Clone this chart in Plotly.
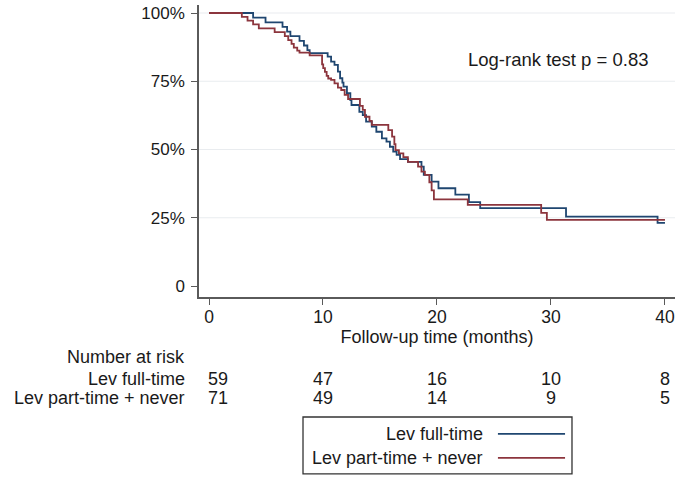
import plotly.graph_objects as go

# ---- data ----
group_names = ["Lev full-time", "Lev part-time + never"]

months_full = [0, 3.87, 4.96, 6.45, 6.85, 7.14, 7.94, 8.33, 8.63, 8.83, 10.41, 10.71, 11.01,
               11.31, 11.50, 11.70, 11.80, 12.10, 12.40, 12.50, 13.19, 13.49, 13.78, 14.28,
               14.68, 15.17, 15.57, 15.87, 16.16, 16.46, 16.76, 17.45, 18.64, 18.84, 19.53,
               20.13, 21.61, 22.80, 23.79, 31.32, 39.35, 40.0]
surv_full = [1.0, 0.983, 0.966, 0.949, 0.932, 0.915, 0.898, 0.881, 0.864, 0.853, 0.840, 0.822,
             0.810, 0.785, 0.761, 0.745, 0.730, 0.706, 0.681, 0.663, 0.638, 0.626, 0.602, 0.584,
             0.565, 0.541, 0.529, 0.510, 0.492, 0.480, 0.465, 0.455, 0.437, 0.407, 0.382,
             0.358, 0.335, 0.307, 0.285, 0.254, 0.231, 0.231]

months_part = [0, 2.88, 3.38, 3.87, 4.37, 5.76, 6.65, 6.95, 7.24, 7.44, 7.74, 7.94, 8.83, 9.92,
               10.02, 10.17, 10.32, 10.46, 10.71, 11.01, 11.31, 11.60, 11.90, 12.20, 13.24,
               13.49, 13.68, 14.08, 14.28, 15.73, 16.06, 16.26, 16.36, 16.66, 17.05, 17.45,
               18.34, 18.64, 18.94, 19.33, 19.53, 19.73, 22.70, 29.14, 29.64, 40.0]
surv_part = [1.0, 0.986, 0.972, 0.958, 0.944, 0.930, 0.915, 0.901, 0.887, 0.873, 0.862, 0.855,
             0.845, 0.812, 0.798, 0.784, 0.770, 0.760, 0.755, 0.742, 0.727, 0.718, 0.700,
             0.685, 0.660, 0.645, 0.620, 0.605, 0.590, 0.571, 0.547, 0.520, 0.498, 0.486,
             0.472, 0.455, 0.437, 0.419, 0.407, 0.380, 0.350, 0.317, 0.297, 0.268, 0.242, 0.242]

risk_times = [0, 10, 20, 30, 40]
risk_full = [59, 47, 16, 10, 8]
risk_part = [71, 49, 14, 9, 5]

x_ticks = [0, 10, 20, 30, 40]
y_ticks = [0, 0.25, 0.5, 0.75, 1.0]
y_labels = ["0", "25%", "50%", "75%", "100%"]

colors = ["#1f4670", "#8c353d"]
FONT = "Liberation Sans, Arial, sans-serif"
TXT = "#1a1a1a"
AX = "#5a5a5a"

fig = go.Figure()
fig.add_trace(go.Scatter(x=months_full, y=surv_full, mode="lines", line_shape="hv",
                         line=dict(color=colors[0], width=1.8), name=group_names[0]))
fig.add_trace(go.Scatter(x=months_part, y=surv_part, mode="lines", line_shape="hv",
                         line=dict(color=colors[1], width=1.8), name=group_names[1]))

shapes = []
for v in y_ticks[1:]:
    shapes.append(dict(type="line", xref="paper", x0=0, x1=1, yref="y", y0=v, y1=v,
                       line=dict(color="#e9ecef", width=1.2), layer="below"))

# legend box (manual, text on the left of the sample line)
shapes.append(dict(type="rect", xref="paper", yref="paper", x0=0.2185, x1=0.7836,
                   y0=-0.606, y1=-0.411, line=dict(color="#333333", width=1.3),
                   fillcolor="white"))
leg_y = [-0.469, -0.551]
for i in range(2):
    shapes.append(dict(type="line", xref="paper", yref="paper", x0=0.628, x1=0.769,
                       y0=leg_y[i], y1=leg_y[i], line=dict(color=colors[i], width=1.8)))

annotations = []
for i in range(2):
    annotations.append(dict(xref="paper", yref="paper", x=0.601, y=leg_y[i], text=group_names[i],
                            showarrow=False, xanchor="right", yanchor="middle",
                            font=dict(family=FONT, size=18, color=TXT)))

# log-rank text
annotations.append(dict(xref="paper", yref="paper", x=0.756, y=0.812,
                        text="Log-rank test p = 0.83", showarrow=False,
                        xanchor="center", yanchor="middle",
                        font=dict(family=FONT, size=18.5, color=TXT)))

# number at risk table
row_y = [-0.2055, -0.2808, -0.3459]
annotations.append(dict(xref="paper", yref="paper", x=-0.0252, y=row_y[0], text="Number at risk",
                        showarrow=False, xanchor="right", yanchor="middle",
                        font=dict(family=FONT, size=18, color=TXT)))
for i, (name, vals) in enumerate(zip(group_names, [risk_full, risk_part])):
    annotations.append(dict(xref="paper", yref="paper", x=-0.0252, y=row_y[i + 1], text=name,
                            showarrow=False, xanchor="right", yanchor="middle",
                            font=dict(family=FONT, size=18, color=TXT)))
    for j, (t, n) in enumerate(zip(risk_times, vals)):
        annotations.append(dict(xref="x", yref="paper", x=t, y=row_y[i + 1], text=str(n),
                                showarrow=False, xanchor="center", yanchor="middle",
                                xshift=9 if j == 0 else 0,
                                font=dict(family=FONT, size=18, color=TXT)))

fig.update_layout(
    width=689, height=483,
    margin=dict(l=199, r=14, t=5, b=186),
    paper_bgcolor="white", plot_bgcolor="white",
    showlegend=False,
    shapes=shapes, annotations=annotations,
    font=dict(family=FONT, size=18, color=TXT),
    xaxis=dict(range=[-0.877, 40.88], tickvals=x_ticks, ticks="outside", ticklen=6,
               tickwidth=1.3, tickcolor=AX, showline=True, linecolor=AX, linewidth=1.5,
               showgrid=False, zeroline=False, ticklabelstandoff=-3,
               tickfont=dict(family=FONT, size=17.5, color=TXT),
               title=dict(text="Follow-up time (months)", standoff=0,
                          font=dict(family=FONT, size=18, color=TXT))),
    yaxis=dict(range=[-0.0403, 1.0293], tickvals=y_ticks, ticktext=y_labels, ticks="outside",
               ticklen=6, tickwidth=1.3, tickcolor=AX, showline=True, linecolor=AX,
               linewidth=1.5, showgrid=False, zeroline=False, ticklabelstandoff=3,
               tickfont=dict(family=FONT, size=17, color=TXT)),
)

fig.write_html("out.html", config={"displayModeBar": False},
               post_script="document.body.style.margin='0px';")
